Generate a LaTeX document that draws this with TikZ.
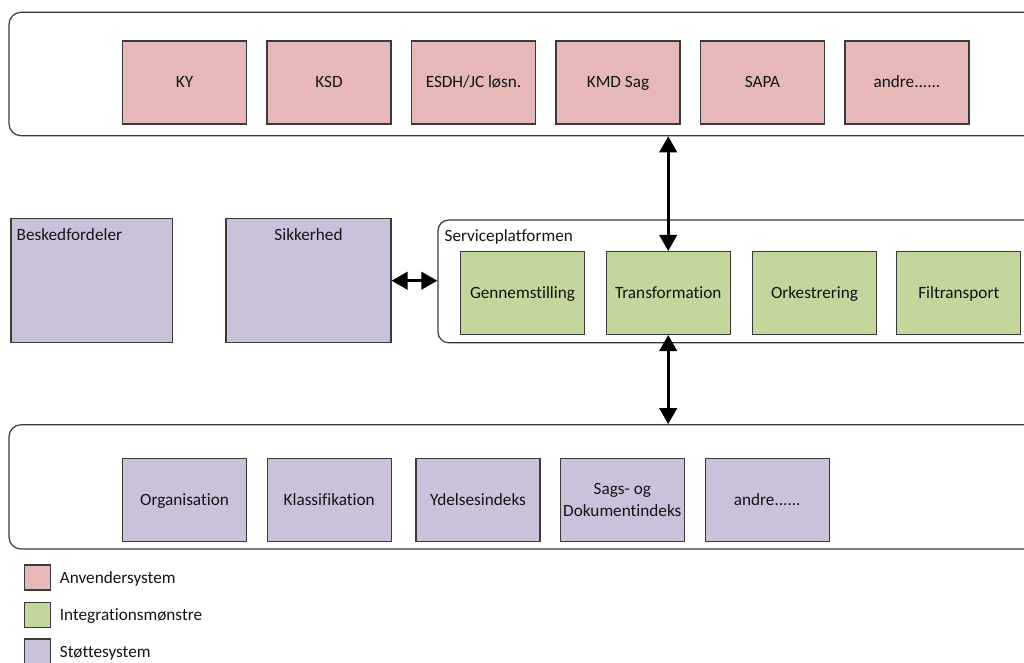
\documentclass[tikz,border=0pt]{standalone}
\usepackage{fontspec}
\setmainfont{Carlito}[Ligatures=NoCommon]
\usetikzlibrary{arrows.meta,fit}
\definecolor{pinkc}{HTML}{E6B9B8}
\definecolor{greenc}{HTML}{C3D69B}
\definecolor{purplec}{HTML}{CCC1DA}
\definecolor{edgec}{HTML}{3A3A3A}
\begin{document}
\begin{tikzpicture}[x=0.75pt,y=-0.75pt,
  every node/.style={font=\fontsize{12.9}{16.5}\selectfont, text=black!92},
  cont/.style={draw=edgec, line width=0.9pt, rounded corners=9pt, inner sep=0pt},
  box/.style={draw=edgec, line width=0.8pt, inner sep=0pt, minimum width=93pt, minimum height=62.25pt},
  one/.style={text height=10pt, text depth=1.8pt},
  app/.style={box, one, fill=pinkc},
  pat/.style={box, one, fill=greenc},
  supp/.style={box, fill=purplec},
  lbl/.style={inner sep=0pt},
  leg/.style={draw=edgec, line width=0.8pt, inner sep=0pt, minimum width=19.5pt, minimum height=18.75pt},
  link/.style={line width=2.25pt, {Triangle[length=12pt,width=13pt]}-{Triangle[length=12pt,width=13pt]}}
]
\useasboundingbox (0,0) rectangle (1024,662);
\clip (0,0) rectangle (1024,662);

% top container: user systems
\node[cont, fit={(9,12.3) (1045,135.7)}] (top) {};
\node[app] (ky) at (184.5,82.5) {KY};
\node[app] (ksd) at (329,82.5) {KSD};
\node[app] (esdh) at (473.5,82.5) {ESDH/JC løsn.};
\node[app] (kmd) at (618,82.5) {KMD Sag};
\node[app] (sapa) at (762.5,82.5) {SAPA};
\node[app] (andre1) at (907,82.5) {andre......};

% middle row
\node[supp, fit={(11,218.7) (172.7,342.7)}] (bf) {};
\node[lbl, anchor=base west] at ([xshift=4.5pt,yshift=-16.4pt]bf.north west) {Beskedfordeler};
\node[supp, fit={(226,218.7) (391,342.7)}] (sik) {};
\node[lbl, anchor=base] at ([yshift=-16.4pt]sik.north) {Sikkerhed};

\node[cont, rounded corners=8pt, fit={(438,220) (1045,342.7)}] (sp) {};
\node[lbl, anchor=base west] at ([xshift=5.2pt,yshift=-16.3pt]sp.north west) {Serviceplatformen};
\node[pat] (genn) at (522.5,293) {Gennemstilling};
\node[pat] (trans) at (668.2,293) {Transformation};
\node[pat] (orke) at (814.5,293) {Orkestrering};
\node[pat] (filt) at (958.8,293) {Filtransport};

% bottom container: support systems
\node[cont, fit={(9,424.7) (1045,549)}] (bot) {};
\node[supp, one] (org) at (184.5,500) {Organisation};
\node[supp, one] (klas) at (329.2,500) {Klassifikation};
\node[supp, one] (ydel) at (478,500) {Ydelsesindeks};
\node[supp, align=center] (sags) at (622.3,500) {Sags- og\\Dokumentindeks};
\node[supp, one] (andre2) at (767.2,500) {andre......};

% connectors
\draw[link] (top.south -| trans.north) -- (trans.north);
\draw[link] (trans.south) -- (trans.south |- bot.north);
\draw[link] (sik.east) -- (sik.east -| sp.west);

% legend
\node[leg, fill=pinkc] (l1) at (37.7,577.5) {};
\node[lbl, anchor=base west] at ([xshift=6.3pt,yshift=-4.2pt]l1.east) {Anvendersystem};
\node[leg, fill=greenc] (l2) at (37.7,614.8) {};
\node[lbl, anchor=base west] at ([xshift=6.3pt,yshift=-4.2pt]l2.east) {Integrationsmønstre};
\node[leg, fill=purplec] (l3) at (37.7,651.5) {};
\node[lbl, anchor=base west] at ([xshift=6.3pt,yshift=-4.2pt]l3.east) {Støttesystem};
\end{tikzpicture}
\end{document}
